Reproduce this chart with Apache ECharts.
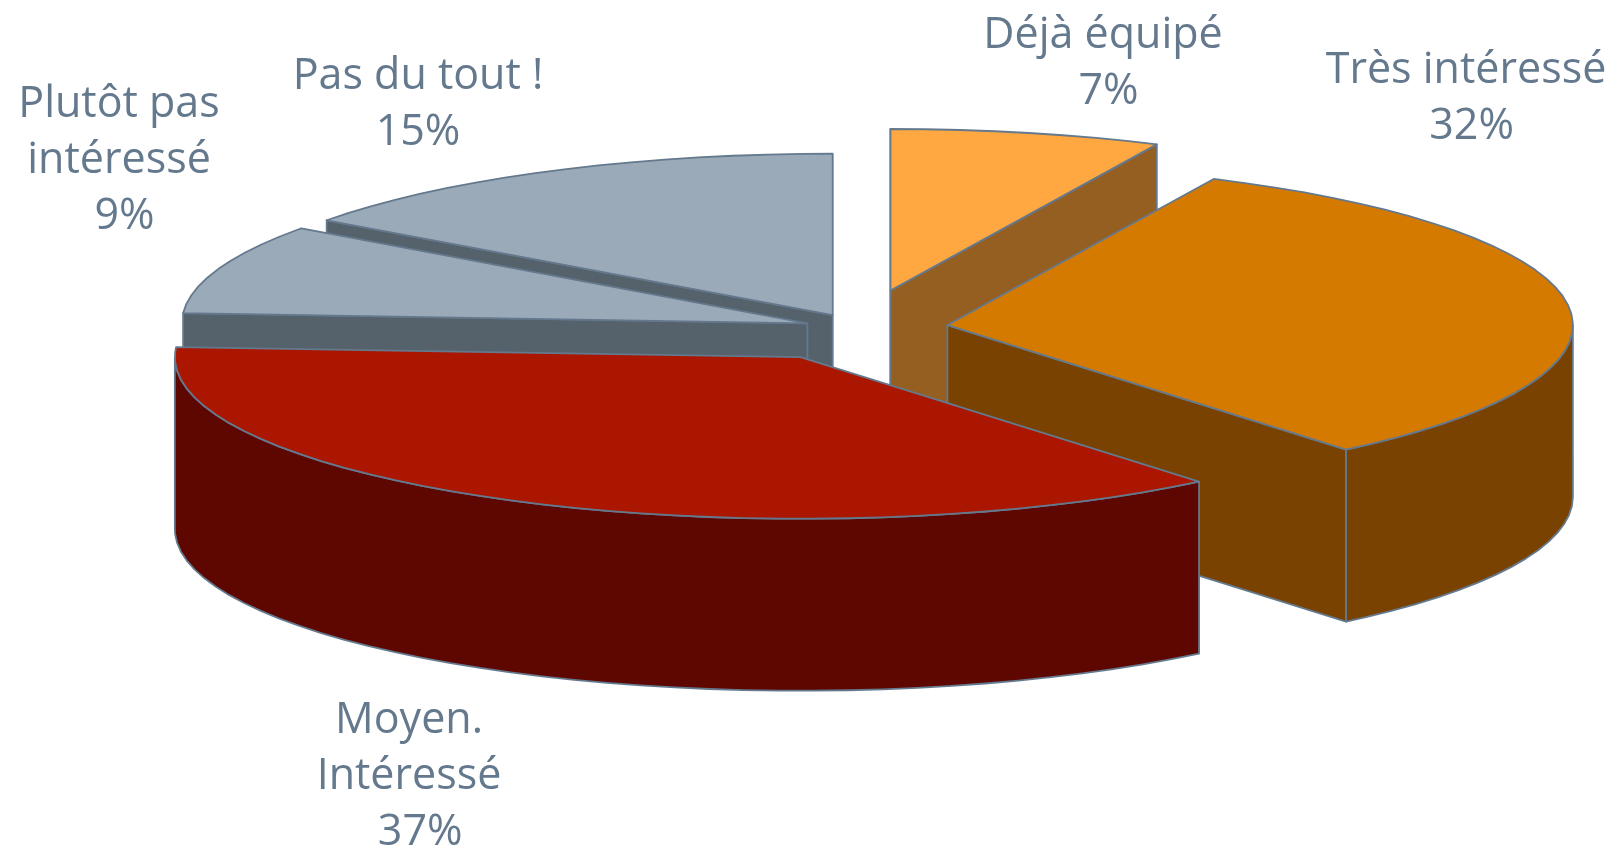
<!DOCTYPE html>
<html>
<head>
<meta charset="utf-8">
<title>Intérêt</title>
<style>
	html, body { margin: 0; padding: 0; background: #fff; }
	#main { width: 1621px; height: 848px; }
</style>
<script src="https://cdn.jsdelivr.net/npm/echarts@6/dist/echarts.min.js"></script>
</head>
<body>
<div id="main"></div>
<script>
// data, clockwise from the first slice
var categories = ['Très intéressé', 'Moyen.\nIntéressé', 'Plutôt pas\nintéressé', 'Pas du tout !', 'Déjà équipé'];
var values = [32, 37, 9, 15, 7];

// styles
var topColors = ['#D57A00', '#AA1600', '#9BAAB9', '#9BAAB9', '#FFA841'];
var sideColors = ['#7A4200', '#5E0600', '#55626B', '#55626B', '#955F22'];
var lineColor = '#64798D';
var textColor = '#64798D';

// layout
var explode = [0.144, 0.203, 0.086, 0.089, 0.238]; // share of the radius, along the slice's middle
var drawOrder = [4, 3, 2, 0, 1]; // back to front
var labelCenters = [[1466, 99], [409, 777], [119, 161], [418, 105], [1103, 64]];
var percentIndent = [' ', '  ', ' ', '', ' ']; // the % lines sit a little right of the name
var centerX = 858, centerY = 328;
var radiusX = 625.5, radiusY = 161.5, depth = 172;
var startAngle = 64.8;
var arcStep = 3.2;

var total = values.reduce(function (a, b) { return a + b; }, 0);
var rad = Math.PI / 180;

function renderSlice(params, api) {
	var i = params.dataIndex;
	var before = 0;
	for (var k = 0; k < i; k++) before += values[k];
	var value = api.value(0);
	var s = startAngle - before / total * 360;
	var e = s - value / total * 360;
	var mid = (s + e) / 2;
	var ax = centerX + explode[i] * radiusX * Math.cos(mid * rad);
	var ay = centerY - explode[i] * radiusY * Math.sin(mid * rad);
	function pt(a, drop) {
		return [ax + radiusX * Math.cos(a * rad), ay - radiusY * Math.sin(a * rad) + (drop || 0)];
	}
	function arc(from, to, drop) {
		var pts = [];
		for (var a = from; a > to; a -= arcStep) pts.push(pt(a, drop));
		pts.push(pt(to, drop));
		return pts;
	}
	var rank = drawOrder.indexOf(i) * 10;
	var children = [];
	function add(points, fill, z) {
		children.push({
			type: 'polygon',
			z2: rank + z,
			shape: { points: points },
			style: { fill: fill, stroke: lineColor, lineWidth: 1.8, lineJoin: 'round' }
		});
	}
	// straight cut walls, only the ones facing the viewer
	if (Math.cos(s * rad) < 0) add([[ax, ay], pt(s), pt(s, depth), [ax, ay + depth]], sideColors[i], 1);
	if (Math.cos(e * rad) > 0) add([[ax, ay], pt(e), pt(e, depth), [ax, ay + depth]], sideColors[i], 1);
	// outer wall, lower half of the ellipse only
	var from = Math.min(s, 0), to = Math.max(e, -180);
	if (from > to) add(arc(from, to, 0).concat(arc(from, to, depth).reverse()), sideColors[i], 2);
	// top face
	add([[ax, ay]].concat(arc(s, e, 0)), topColors[i], 3);
	// label
	children.push({
		type: 'text',
		z2: 100,
		x: labelCenters[i][0],
		y: labelCenters[i][1],
		style: {
			text: categories[i] + '\n' + percentIndent[i] + value + '%',
			fill: textColor,
			fontFamily: 'Open Sans',
			fontSize: 43,
			lineHeight: 56,
			align: 'center',
			verticalAlign: 'middle'
		}
	});
	return { type: 'group', children: children };
}

var chart = echarts.init(document.getElementById('main'));
chart.setOption({
	animation: false,
	backgroundColor: '#fff',
	series: [{
		type: 'custom',
		coordinateSystem: 'none',
		renderItem: renderSlice,
		data: values.map(function (v, i) { return { name: categories[i], value: [v] }; })
	}]
});
</script>
</body>
</html>
